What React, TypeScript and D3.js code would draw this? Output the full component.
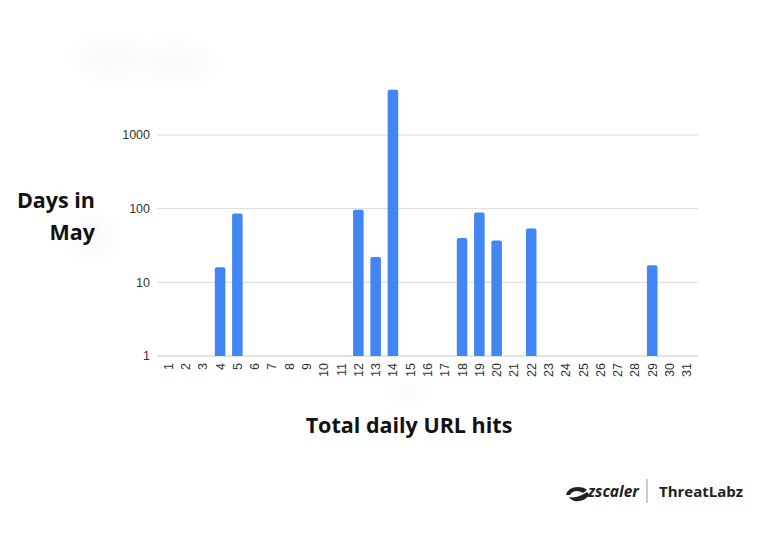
import React from "react";
import * as d3 from "d3";

const days: string[] = Array.from({ length: 31 }, (_, i) => String(i + 1));
const hitDays: string[] = ["4", "5", "12", "13", "14", "18", "19", "20", "22", "29"];
const hitValues: number[] = [16, 86, 97, 22, 4100, 40, 89, 37, 54, 17];
const yTicks: number[] = [1, 10, 100, 1000];

const W = 768;
const H = 550;

export default function App() {
  const x = d3.scaleBand<string>().domain(days).range([159.5, 695.5]).paddingInner(0.39).paddingOuter(0.2);
  const y = d3.scaleLog().domain([1, 1000]).range([356, 135]);
  const data = hitDays.map((d, i) => ({ day: d, value: hitValues[i] }));
  const bw = x.bandwidth();

  return (
    <svg width={W} height={H} style={{ position: "absolute", left: 0, top: 0, background: "#fff" }}>
      <defs>
        <filter id="blur" x="-50%" y="-50%" width="200%" height="200%">
          <feGaussianBlur stdDeviation="9" />
        </filter>
      </defs>
      <rect x={0} y={0} width={W} height={H} fill="#fff" />
      {/* faint blurred smudges */}
      <g filter="url(#blur)" fill="#f9f9f9">
        <ellipse cx={110} cy={58} rx={34} ry={18} />
        <ellipse cx={175} cy={62} rx={38} ry={16} />
        <ellipse cx={92} cy={235} rx={18} ry={22} />
        <ellipse cx={408} cy={392} rx={22} ry={6} />
      </g>

      {/* gridlines */}
      {yTicks.map((t) => (
        <line key={t} x1={157} x2={698} y1={y(t)} y2={y(t)} stroke={t === 1 ? "#c8c8c8" : "#d9d9d9"} strokeWidth={1} />
      ))}
      {yTicks.map((t) => (
        <text
          key={"l" + t}
          x={150}
          y={y(t)}
          dy="0.35em"
          textAnchor="end"
          fontFamily="'Liberation Sans', Arial, sans-serif"
          fontSize={12.5}
          fill="#333"
        >
          {t}
        </text>
      ))}

      {/* bars */}
      {data.map((d) => {
        const x0 = x(d.day)!;
        const y0 = y(d.value);
        const h = y(1) - y0;
        const r = 2;
        const path = `M${x0},${y(1)} L${x0},${y0 + r} Q${x0},${y0} ${x0 + r},${y0} L${x0 + bw - r},${y0} Q${x0 + bw},${y0} ${x0 + bw},${y0 + r} L${x0 + bw},${y(1)} Z`;
        return h > 0 ? <path key={d.day} d={path} fill="#4285F4" /> : null;
      })}

      {/* x tick labels */}
      {days.map((d) => {
        const cx = x(d)! + bw / 2;
        return (
          <text
            key={"x" + d}
            transform={`translate(${cx + 4.5},363) rotate(-90)`}
            textAnchor="end"
            fontFamily="'Liberation Sans', Arial, sans-serif"
            fontSize={12.5}
            fill="#333"
          >
            {d}
          </text>
        );
      })}

      {/* y axis title */}
      <text x={95} y={208} textAnchor="end" fontFamily="'Open Sans', sans-serif" fontWeight={700} fontSize={21.5} fill="#111">
        Days in
      </text>
      <text x={95} y={240} textAnchor="end" fontFamily="'Open Sans', sans-serif" fontWeight={700} fontSize={21.5} fill="#111">
        May
      </text>

      {/* x axis title */}
      <text x={409} y={433} textAnchor="middle" fontFamily="'Open Sans', sans-serif" fontWeight={700} fontSize={21.5} fill="#111">
        Total daily URL hits
      </text>

      {/* logo */}
      <g>
        <path d="M566,495 q2,-8 12,-8 q6,0 9,3 l-4,3 q-3,-2 -6,-2 q-5,0 -7,4 z M569,497 q8,2 18,-5 l2,2 q-2,6 -10,7 q-7,1 -10,-4 z" fill="#222" />
        <text x={588} y={497} fontFamily="'Open Sans', sans-serif" fontStyle="italic" fontWeight={700} fontSize={15.5} fill="#222">
          zscaler
        </text>
        <line x1={647} x2={647} y1={479} y2={503} stroke="#999" strokeWidth={1} />
        <text x={659} y={497} fontFamily="'Open Sans', sans-serif" fontWeight={700} fontSize={15} fill="#222">
          ThreatLabz
        </text>
      </g>
    </svg>
  );
}
